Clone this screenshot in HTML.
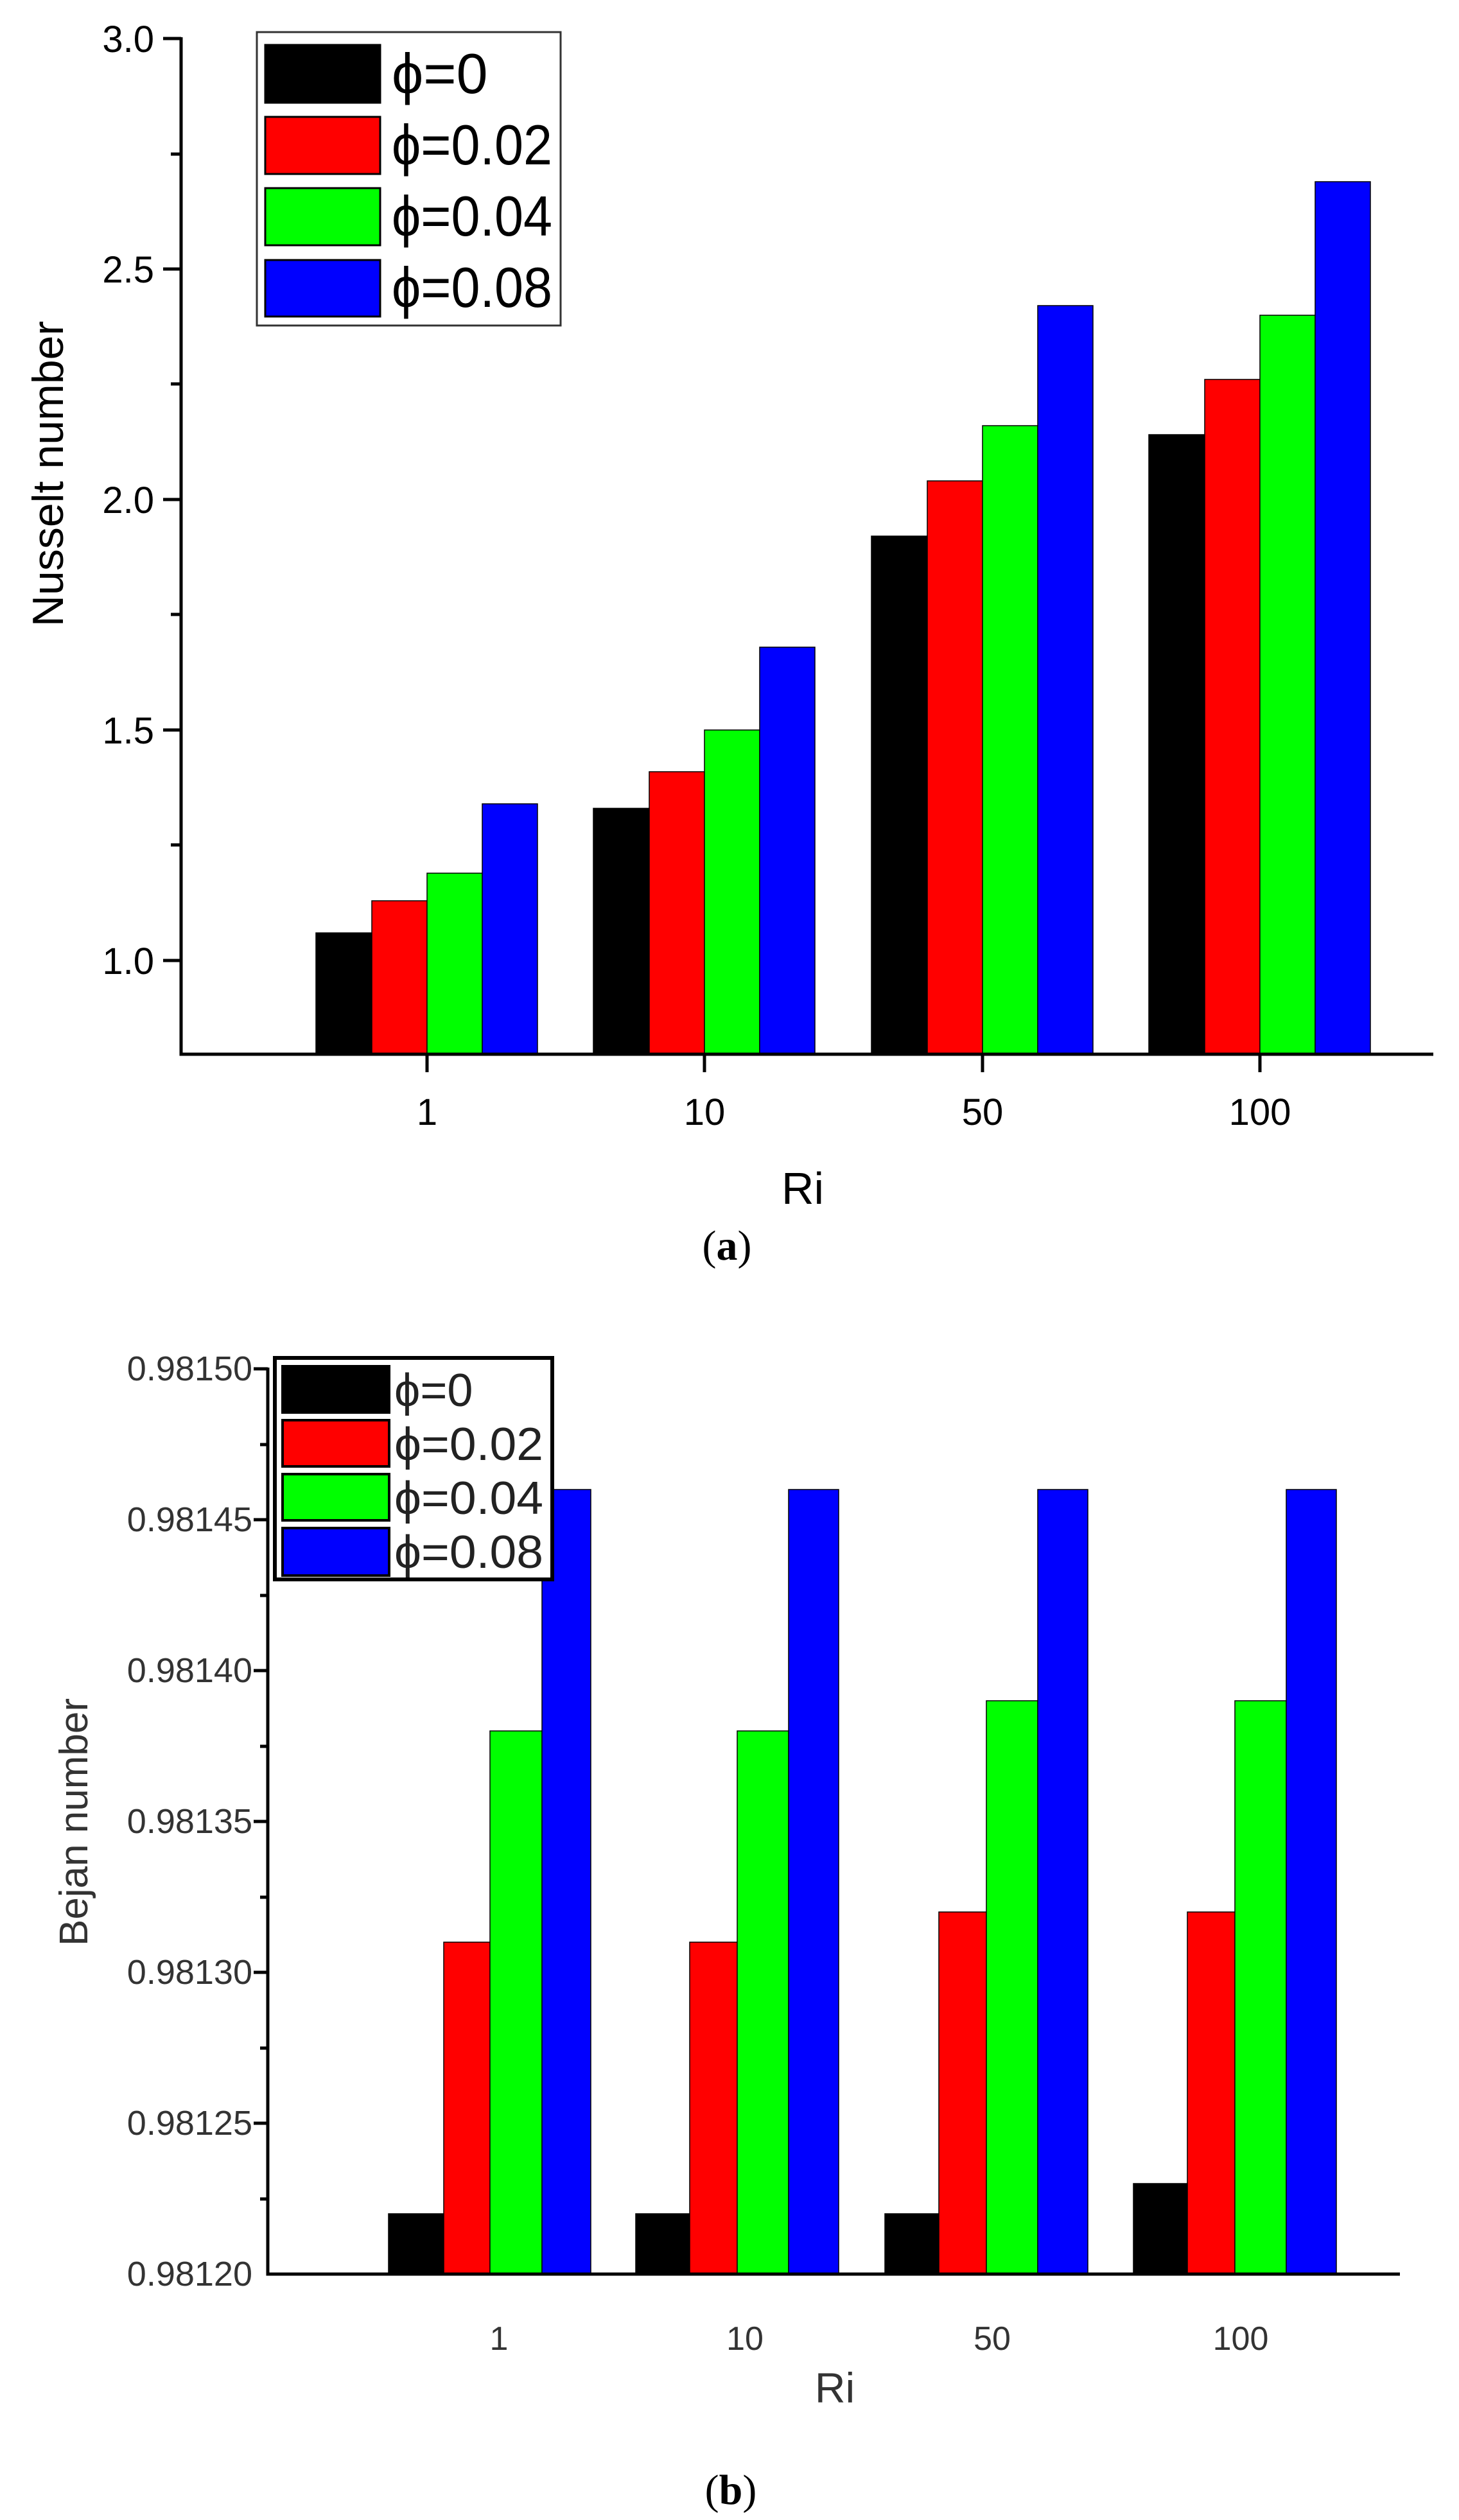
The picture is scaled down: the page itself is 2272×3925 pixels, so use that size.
<!DOCTYPE html>
<html><head><meta charset="utf-8"><style>
html,body{margin:0;padding:0;background:#fff}
svg{display:block}
</style></head><body>
<svg xmlns="http://www.w3.org/2000/svg" width="2272" height="3925" viewBox="0 0 2272 3925" font-family="Liberation Sans, sans-serif">
<rect width="2272" height="3925" fill="#fff"/>
<!-- ===== TOP CHART ===== -->
<g stroke="#000" stroke-width="1.5">
<rect x="492" y="1453" width="87" height="189" fill="#000"/>
<rect x="579" y="1403" width="86" height="239" fill="#f00"/>
<rect x="665" y="1360" width="86" height="282" fill="#0f0"/>
<rect x="751" y="1252" width="86" height="390" fill="#00f"/>
<rect x="924" y="1259" width="87" height="383" fill="#000"/>
<rect x="1011" y="1202" width="86" height="440" fill="#f00"/>
<rect x="1097" y="1137" width="86" height="505" fill="#0f0"/>
<rect x="1183" y="1008" width="86" height="634" fill="#00f"/>
<rect x="1357" y="835" width="87" height="807" fill="#000"/>
<rect x="1444" y="749" width="86" height="893" fill="#f00"/>
<rect x="1530" y="663" width="86" height="979" fill="#0f0"/>
<rect x="1616" y="476" width="86" height="1166" fill="#00f"/>
<rect x="1789" y="677" width="87" height="965" fill="#000"/>
<rect x="1876" y="591" width="86" height="1051" fill="#f00"/>
<rect x="1962" y="491" width="86" height="1151" fill="#0f0"/>
<rect x="2048" y="283" width="86" height="1359" fill="#00f"/>
</g>
<g stroke="#000" stroke-width="5" fill="none">
<path d="M282 58 V1642 H2232"/>
<path d="M254 60 H282 M254 419 H282 M254 778 H282 M254 1137 H282 M254 1496 H282"/>
<path d="M266 240 H282 M266 598 H282 M266 957 H282 M266 1316 H282"/>
<path d="M665 1642 V1670 M1097 1642 V1670 M1530 1642 V1670 M1962 1642 V1670"/>
</g>
<g font-size="58" text-anchor="end" fill="#000">
<text x="240" y="81">3.0</text>
<text x="240" y="440">2.5</text>
<text x="240" y="799">2.0</text>
<text x="240" y="1158">1.5</text>
<text x="240" y="1517">1.0</text>
</g>
<g font-size="58" text-anchor="middle" fill="#000">
<text x="665" y="1752">1</text>
<text x="1097" y="1752">10</text>
<text x="1530" y="1752">50</text>
<text x="1962" y="1752">100</text>
<text x="1250" y="1875" font-size="70">Ri</text>
<text transform="translate(98,738) rotate(-90)" font-size="68">Nusselt number</text>
</g>
<text x="1132" y="1962" font-family="Liberation Serif, serif" font-size="66" text-anchor="middle">(<tspan font-weight="bold">a</tspan>)</text>
<rect x="400" y="50" width="473" height="457" fill="#fff" stroke="#333" stroke-width="3"/>
<g stroke="#000" stroke-width="3">
<rect x="413" y="70" width="179" height="90" fill="#000"/>
<rect x="413" y="182" width="179" height="89" fill="#f00"/>
<rect x="413" y="293" width="179" height="89" fill="#0f0"/>
<rect x="413" y="405" width="179" height="88" fill="#00f"/>
</g>
<g font-size="88" fill="#000">
<text x="610" y="145">ϕ=0</text>
<text x="610" y="256" textLength="250" lengthAdjust="spacingAndGlyphs">ϕ=0.02</text>
<text x="610" y="367" textLength="250" lengthAdjust="spacingAndGlyphs">ϕ=0.04</text>
<text x="610" y="478" textLength="250" lengthAdjust="spacingAndGlyphs">ϕ=0.08</text>
</g>
<!-- ===== BOTTOM CHART ===== -->
<g stroke="#000" stroke-width="1.5">
<rect x="605" y="3448" width="86" height="94" fill="#000"/>
<rect x="691" y="3025" width="72" height="517" fill="#f00"/>
<rect x="763" y="2696" width="81" height="846" fill="#0f0"/>
<rect x="844" y="2320" width="76" height="1222" fill="#00f"/>
<rect x="990" y="3448" width="84" height="94" fill="#000"/>
<rect x="1074" y="3025" width="74" height="517" fill="#f00"/>
<rect x="1148" y="2696" width="80" height="846" fill="#0f0"/>
<rect x="1228" y="2320" width="78" height="1222" fill="#00f"/>
<rect x="1378" y="3448" width="84" height="94" fill="#000"/>
<rect x="1462" y="2978" width="74" height="564" fill="#f00"/>
<rect x="1536" y="2649" width="80" height="893" fill="#0f0"/>
<rect x="1616" y="2320" width="78" height="1222" fill="#00f"/>
<rect x="1765" y="3401" width="84" height="141" fill="#000"/>
<rect x="1849" y="2978" width="74" height="564" fill="#f00"/>
<rect x="1923" y="2649" width="80" height="893" fill="#0f0"/>
<rect x="2003" y="2320" width="78" height="1222" fill="#00f"/>
</g>
<g stroke="#000" stroke-width="5" fill="none">
<path d="M417 2130 V3542 H2180"/>
<path d="M395 2132 H417 M395 2367 H417 M395 2602 H417 M395 2837 H417 M395 3072 H417 M395 3307 H417"/>
<path d="M405 2250 H417 M405 2485 H417 M405 2720 H417 M405 2955 H417 M405 3190 H417 M405 3425 H417"/>
</g>
<g font-size="54" text-anchor="end" fill="#333">
<text x="393" y="2150">0.98150</text>
<text x="393" y="2385">0.98145</text>
<text x="393" y="2620">0.98140</text>
<text x="393" y="2855">0.98135</text>
<text x="393" y="3090">0.98130</text>
<text x="393" y="3325">0.98125</text>
<text x="393" y="3560">0.98120</text>
</g>
<g font-size="52" text-anchor="middle" fill="#333">
<text x="777" y="3660">1</text>
<text x="1160" y="3660">10</text>
<text x="1545" y="3660">50</text>
<text x="1932" y="3660">100</text>
<text x="1300" y="3742" font-size="66">Ri</text>
<text transform="translate(136,2838) rotate(-90)" font-size="62">Bejan number</text>
</g>
<text x="1138" y="3900" font-family="Liberation Serif, serif" font-size="66" text-anchor="middle">(<tspan font-weight="bold">b</tspan>)</text>
<rect x="428" y="2115" width="432" height="345" fill="#fff" stroke="#000" stroke-width="6"/>
<g stroke="#000" stroke-width="4">
<rect x="440" y="2128" width="166" height="72" fill="#000"/>
<rect x="440" y="2212" width="166" height="72" fill="#f00"/>
<rect x="440" y="2296" width="166" height="72" fill="#0f0"/>
<rect x="440" y="2380" width="166" height="74" fill="#00f"/>
</g>
<g font-size="72" fill="#222">
<text x="614" y="2190">ϕ=0</text>
<text x="614" y="2274" textLength="232" lengthAdjust="spacingAndGlyphs">ϕ=0.02</text>
<text x="614" y="2358" textLength="232" lengthAdjust="spacingAndGlyphs">ϕ=0.04</text>
<text x="614" y="2442" textLength="232" lengthAdjust="spacingAndGlyphs">ϕ=0.08</text>
</g>
</svg>
</body></html>
